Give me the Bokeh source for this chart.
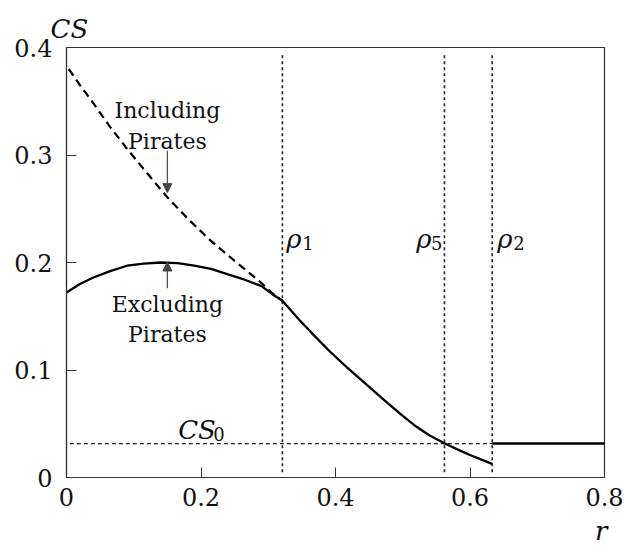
from bokeh.plotting import figure
from bokeh.models import Range1d, FixedTicker, Label, Arrow, NormalHead, Title
from bokeh.embed import file_html
from bokeh.resources import INLINE

# ---- data ----
r_excl = [0.0, 0.02, 0.04, 0.065, 0.09, 0.115, 0.14, 0.165, 0.19, 0.215, 0.24, 0.265, 0.29, 0.305, 0.321,
          0.345, 0.368, 0.392, 0.417, 0.445, 0.475, 0.5, 0.52, 0.54, 0.562, 0.582, 0.6, 0.617, 0.633]
cs_excl = [0.172, 0.180, 0.186, 0.192, 0.197, 0.199, 0.200, 0.1995, 0.197, 0.194, 0.189, 0.184, 0.178, 0.171, 0.1645,
           0.1475, 0.1322, 0.1170, 0.1025, 0.0870, 0.0705, 0.0573, 0.0474, 0.0391, 0.0318, 0.0259, 0.0209, 0.0166, 0.0127]

r_incl = [0.0034, 0.02, 0.0406, 0.065, 0.09, 0.12, 0.1497, 0.18, 0.214, 0.25, 0.2885, 0.305, 0.321]
cs_incl = [0.380, 0.365, 0.3476, 0.326, 0.3058, 0.283, 0.2608, 0.241, 0.2205, 0.2015, 0.1817, 0.172, 0.1645]

r_flat = [0.633, 0.8]
cs0 = 0.0316

rho1, rho5, rho2 = 0.321, 0.562, 0.633

x_ticks = [0, 0.2, 0.4, 0.6, 0.8]
x_tick_labels = ["0", "0.2", "0.4", "0.6", "0.8"]
y_ticks = [0, 0.1, 0.2, 0.3, 0.4]
y_tick_labels = ["0", "0.1", "0.2", "0.3", "0.4"]

FONT = "DejaVu Serif"
INK = "#111111"

p = figure(frame_width=538, frame_height=430,
           min_border_left=66, min_border_right=20, min_border_top=47, min_border_bottom=75,
           x_range=Range1d(0, 0.8), y_range=Range1d(0, 0.4),
           output_backend="svg", toolbar_location=None,
           background_fill_color="white", border_fill_color="white")

p.grid.visible = False
p.outline_line_color = "#333333"
p.outline_line_width = 1.2

for ax in (p.xaxis[0], p.yaxis[0]):
    ax.axis_line_color = "#333333"
    ax.axis_line_width = 1.2
    ax.major_tick_in = 10
    ax.major_tick_out = 0
    ax.minor_tick_line_color = None
    ax.major_tick_line_color = "#333333"
    ax.major_label_text_font = FONT
    ax.major_label_text_font_size = "24px"
    ax.major_label_text_color = INK

p.xaxis[0].ticker = FixedTicker(ticks=x_ticks)
p.xaxis[0].major_label_overrides = {t: l for t, l in zip(x_ticks, x_tick_labels)}
p.xaxis[0].major_label_standoff = 10
p.yaxis[0].ticker = FixedTicker(ticks=y_ticks)
p.yaxis[0].major_label_overrides = {t: l for t, l in zip(y_ticks, y_tick_labels)}
p.yaxis[0].major_label_standoff = 14

# axis titles as Title panels (outside the frame)
p.add_layout(Title(text="CS", align="left", offset=-16, standoff=7,
                   text_font=FONT, text_font_size="26px", text_font_style="italic",
                   text_color=INK), "above")
p.add_layout(Title(text="r", align="right", offset=-3, standoff=10,
                   text_font=FONT, text_font_size="26px", text_font_style="italic",
                   text_color=INK), "below")

# vertical dotted lines
for xr in (rho1, rho5, rho2):
    p.line([xr, xr], [0.005, 0.395], line_color="#222222", line_width=1.6, line_dash="3 3")

# CS0 horizontal dashed
p.line([0.005, rho2], [cs0, cs0], line_color="#222222", line_width=1.3, line_dash="4 3")

# curves
p.line(r_incl, cs_incl, line_color="black", line_width=2.2, line_dash="8 5")
p.line(r_excl, cs_excl, line_color="black", line_width=2.3, line_join="round")
p.line(r_flat, [cs0, cs0], line_color="black", line_width=2.6)

# arrows
p.add_layout(Arrow(end=NormalHead(size=9, fill_color="#444444", line_color="#444444"),
                   x_start=0.15, y_start=0.304, x_end=0.15, y_end=0.265,
                   line_color="#555555", line_width=1.3))
p.add_layout(Arrow(end=NormalHead(size=9, fill_color="#444444", line_color="#444444"),
                   x_start=0.15, y_start=0.176, x_end=0.15, y_end=0.2005,
                   line_color="#555555", line_width=1.3))

UP = 6

def lab(text, x, y, size, align="center", italic=False, xo=0, yo=0):
    p.add_layout(Label(x=x, y=y, text=text, x_offset=xo, y_offset=yo + UP,
                       text_font=FONT, text_font_size=size, text_color=INK,
                       text_align=align, text_baseline="alphabetic",
                       text_font_style="italic" if italic else "normal"))

lab("Including", 0.15, 0.3358, "22px")
lab("Pirates", 0.15, 0.307, "22px")
lab("Excluding", 0.15, 0.155, "22px")
lab("Pirates", 0.15, 0.1274, "22px")

# rho labels
lab("ρ", rho1, 0.216, "26px", align="left", italic=True, xo=4)
lab("1", rho1, 0.216, "18px", align="left", xo=20, yo=-4)
lab("ρ", rho5, 0.216, "26px", align="right", italic=True, xo=-13)
lab("5", rho5, 0.216, "18px", align="right", xo=-2, yo=-4)
lab("ρ", rho2, 0.216, "26px", align="left", italic=True, xo=5)
lab("2", rho2, 0.216, "18px", align="left", xo=21, yo=-4)

# CS0 label
lab("CS", 0.166, 0.0372, "26px", align="left", italic=True, yo=2)
lab("0", 0.166, 0.0372, "18px", align="left", xo=35, yo=-2)

open("out.html", "w").write(file_html(p, INLINE))
